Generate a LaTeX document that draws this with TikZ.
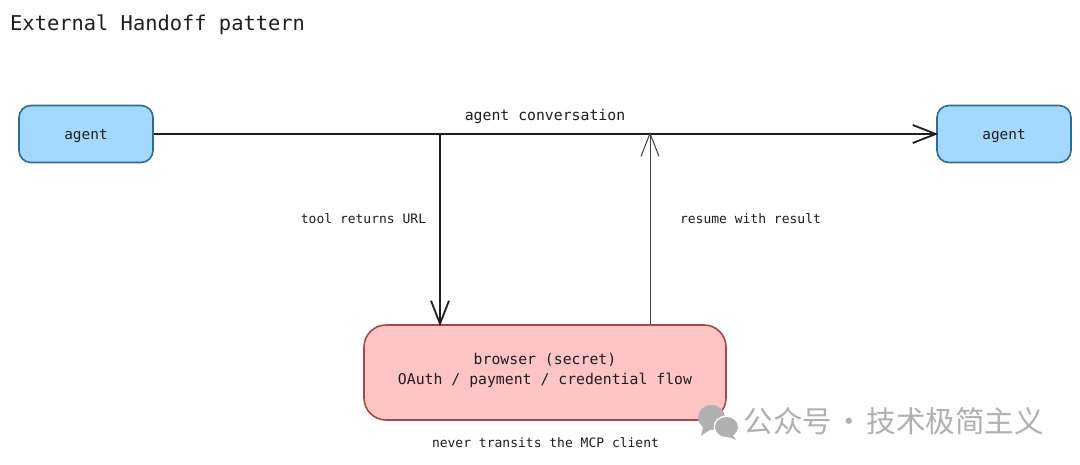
\documentclass[tikz,border=0pt]{standalone}
\usepackage{fontspec}
\setmonofont{DejaVu Sans Mono}
\newfontfamily\cjk{Noto Sans CJK SC}
\usetikzlibrary{arrows.meta}

\definecolor{agentfill}{HTML}{A5D8FF}
\definecolor{agentline}{HTML}{2A6F8E}
\definecolor{browserfill}{HTML}{FFC4C6}
\definecolor{browserline}{HTML}{A8474C}
\definecolor{inkdark}{HTML}{1E1E1E}
\definecolor{markgrey}{HTML}{B0B0B0}

\tikzset{
  agentbox/.style={draw=agentline, fill=agentfill, line width=1.6pt, rounded corners=12pt,
    minimum width=134pt, minimum height=57pt, inner sep=0pt, text=inkdark,
    text height=11pt, text depth=0pt,
    font=\ttfamily\fontsize{14.4}{17}\selectfont},
  browserbox/.style={draw=browserline, fill=browserfill, line width=1.6pt, rounded corners=22pt,
    minimum width=362pt, minimum height=95pt, inner sep=0pt, align=center, text=inkdark,
    font=\ttfamily\fontsize{14.8}{20}\selectfont},
  smalltext/.style={inner sep=0pt, text=inkdark, font=\ttfamily\fontsize{13}{15}\selectfont},
  midtext/.style={inner sep=0pt, text=inkdark, font=\ttfamily\fontsize{14.8}{17}\selectfont},
  flow/.style={-{Straight Barb[length=23pt,width=18pt]}, color=inkdark, line width=1.8pt, shorten >=-2pt}
}

\begin{document}
\begin{tikzpicture}[x=1pt, y=-1pt]

\useasboundingbox (0,0) rectangle (1080,465);
\fill[white] (0,0) rectangle (1080,465);

% Title
\node[anchor=west, inner sep=0pt, text=inkdark, font=\ttfamily\fontsize{20.4}{24}\selectfont] (title) at (10,25) {External Handoff pattern};

% Boxes
\node[agentbox] (agentleft) at (86,134) {agent};
\node[agentbox] (agentright) at (1004,134) {agent};
\node[browserbox] (browser) at (545,372.5) {browser (secret)\\OAuth / payment / credential flow\\[-13pt]\mbox{}};

% Points on the conversation line
\coordinate (leave) at (440,134);
\coordinate (rejoin) at (650,134);

% Arrows
\draw[flow] (agentleft) -- (agentright);
\draw[flow] (leave) -- (leave |- browser.north);
\draw[flow, line width=1pt, color=inkdark!85] (rejoin |- browser.north) -- (rejoin);

% Labels
\node[midtext] (convlabel) at (545,116) {agent conversation};
\node[smalltext] (urllabel) at (363.5,219) {tool returns URL};
\node[smalltext] (resumelabel) at (750.5,219) {resume with result};
\node[smalltext] (neverlabel) at (545.5,443) {never transits the MCP client};

% Watermark
\fill[markgrey] (711.5,417.5) ellipse (13.5 and 12.5);
\fill[markgrey] (703,427) -- (701,436) -- (711,429) -- cycle;
\fill[white] (726.5,427) ellipse (13 and 11.5);
\fill[markgrey] (726.5,427) ellipse (11.5 and 10);
\fill[markgrey] (732,434) -- (736,440) -- (726,436) -- cycle;
\node[anchor=west, inner sep=0pt, text=markgrey, font=\cjk\fontsize{29.6}{32}\selectfont] (mark) at (743.5,421) {公众号\hspace{2.2pt}·\hspace{2.2pt}技术极简主义};

\end{tikzpicture}
\end{document}
